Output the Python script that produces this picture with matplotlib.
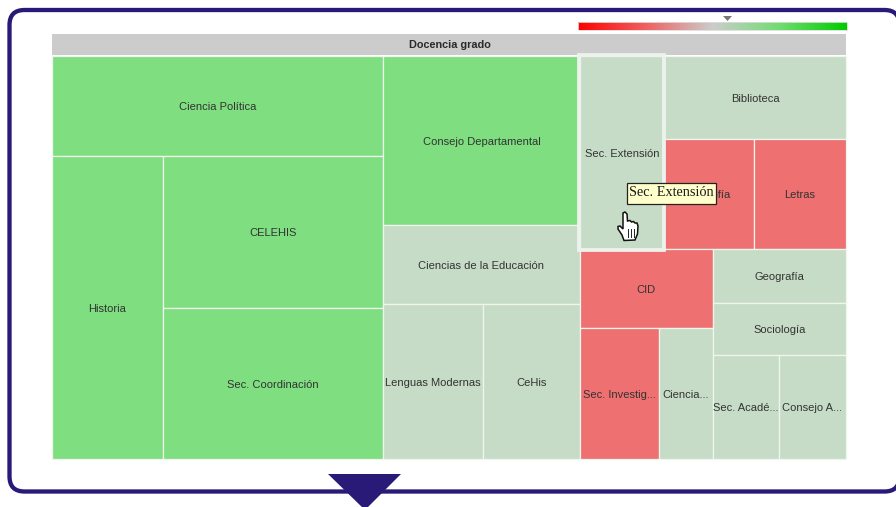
import numpy as np
import matplotlib
matplotlib.use("Agg")
import matplotlib.pyplot as plt
from matplotlib.patches import Rectangle, FancyBboxPatch, Polygon
from matplotlib.colors import LinearSegmentedColormap

title = "Docencia grado"
tooltip = "Sec. Extensión"

# cell sizes (relative area) and status
sizes = {
    "Ciencia Política": 331, "Historia": 336, "CELEHIS": 334, "Sec. Coordinación": 332,
    "Consejo Departamental": 333, "Ciencias de la Educación": 156,
    "Lenguas Modernas": 155, "CeHis": 150,
    "Sec. Extensión": 162, "Biblioteca": 151, "Filosofía": 99, "Letras": 101,
    "CID": 105, "Sec. Investig...": 103, "Ciencia...": 71,
    "Geografía": 72, "Sociología": 69, "Sec. Acadé...": 69, "Consejo A...": 70,
}
status = {
    "Ciencia Política": "alto", "Historia": "alto", "CELEHIS": "alto", "Sec. Coordinación": "alto",
    "Consejo Departamental": "alto", "Ciencias de la Educación": "medio",
    "Lenguas Modernas": "medio", "CeHis": "medio",
    "Sec. Extensión": "medio", "Biblioteca": "medio", "Filosofía": "bajo", "Letras": "bajo",
    "CID": "bajo", "Sec. Investig...": "bajo", "Ciencia...": "medio",
    "Geografía": "medio", "Sociología": "medio", "Sec. Acadé...": "medio", "Consejo A...": "medio",
}
palette = {"alto": "#7FDF80", "medio": "#C6DCC6", "bajo": "#EF7070"}

# nesting: 'h' splits side by side, 'v' stacks
tree = ("h", [
    ("v", ["Ciencia Política",
           ("h", ["Historia", ("v", ["CELEHIS", "Sec. Coordinación"])])]),
    ("v", ["Consejo Departamental", "Ciencias de la Educación",
           ("h", ["Lenguas Modernas", "CeHis"])]),
    ("v", [
        ("h", ["Sec. Extensión",
               ("v", ["Biblioteca", ("h", ["Filosofía", "Letras"])])]),
        ("h", [("v", ["CID", ("h", ["Sec. Investig...", "Ciencia..."])]),
               ("v", ["Geografía", "Sociología",
                      ("h", ["Sec. Acadé...", "Consejo A..."])])]),
    ]),
])


def total(node):
    if isinstance(node, str):
        return sizes[node]
    return sum(total(c) for c in node[1])


def layout(node, x, y, w, h, out):
    if isinstance(node, str):
        out[node] = (x, y, w, h)
        return
    t = total(node)
    for c in node[1]:
        f = total(c) / t
        if node[0] == "h":
            layout(c, x, y, w * f, h, out)
            x += w * f
        else:
            layout(c, x, y, w, h * f, out)
            y += h * f


W, H = 896, 507
fig = plt.figure(figsize=(W / 100, H / 100), dpi=100, facecolor="white")
ax = fig.add_axes([0, 0, 1, 1])
ax.set_axis_off()

NAVY = "#2A1A78"
# frame
ax.add_patch(FancyBboxPatch((9.5, 10), 890, 481.5, boxstyle="round,pad=0,rounding_size=15",
                            fc="white", ec=NAVY, lw=3.1, zorder=1))
ax.add_patch(Polygon([(328, 474), (401, 474), (365, 510)], closed=True, fc=NAVY, ec="none", zorder=2))

# colour scale
cmap = LinearSegmentedColormap.from_list("rg", ["#FF0000", "#F06060", "#CCCCCC", "#70DD70", "#00CC00"])
ax.imshow(np.linspace(0, 1, 256)[None, :], cmap=cmap, extent=(578, 847, 30, 22), aspect="auto", zorder=2)
ax.add_patch(Rectangle((578, 22), 269, 8, fc="none", ec="#DDDDDD", lw=0.6, zorder=3))
ax.add_patch(Polygon([(723, 16), (732, 16), (727.5, 21)], closed=True, fc="#777777", ec="none", zorder=3))

# header
ax.add_patch(Rectangle((52, 34), 794, 21, fc="#CCCCCC", ec="none", zorder=2))
ax.text(449.5, 45, title, ha="center", va="center", fontsize=7.8, fontweight="bold",
        family="Liberation Sans", color="#2A2A2A", zorder=5)

# cells
cells = {}
layout(tree, 52, 56, 794, 403, cells)
for name, (x, y, w, h) in cells.items():
    ax.add_patch(Rectangle((x, y), w, h, fc=palette[status[name]], ec="#EEF6EE", lw=0.9, zorder=3))
    ax.text(x + w / 2, y + h / 2 + 1.3, name, ha="center", va="center", fontsize=8,
            family="Liberation Sans", color="#333333", zorder=5)

# highlight around the hovered cell
x, y, w, h = cells[tooltip]
ax.add_patch(Rectangle((x - 0.5, y - 1.5), w + 1, h + 2.5, fc="none", ec="#EEF2EE", lw=2.7, zorder=4))

# tooltip
ax.add_patch(Rectangle((627, 183), 89, 21, fc="#FFFFCC", ec="#222222", lw=0.9, zorder=6))
ax.text(671.5, 193, tooltip, ha="center", va="center", fontsize=10.3,
        family="Liberation Serif", color="#1A1A1A", zorder=7)

# pointer hand
hand = np.array([
    (623, 213), (625, 212), (627, 214), (627.5, 221), (630, 220.5), (631.5, 222), (633.5, 221.5),
    (635, 223), (637, 223), (638, 226), (637.5, 234), (635, 240), (624, 240.5),
    (622, 235), (618, 229), (618, 226.5), (620, 226), (623, 229),
])
ax.add_patch(Polygon(hand, closed=True, fc="white", ec="#111111", lw=1.1, zorder=8))
for hx in (627.5, 630.8, 634):
    ax.plot([hx, hx], [229, 237], color="#222222", lw=0.7, zorder=9)

ax.set_xlim(0, W)
ax.set_ylim(H, 0)
fig.savefig("out.png", dpi=100)
